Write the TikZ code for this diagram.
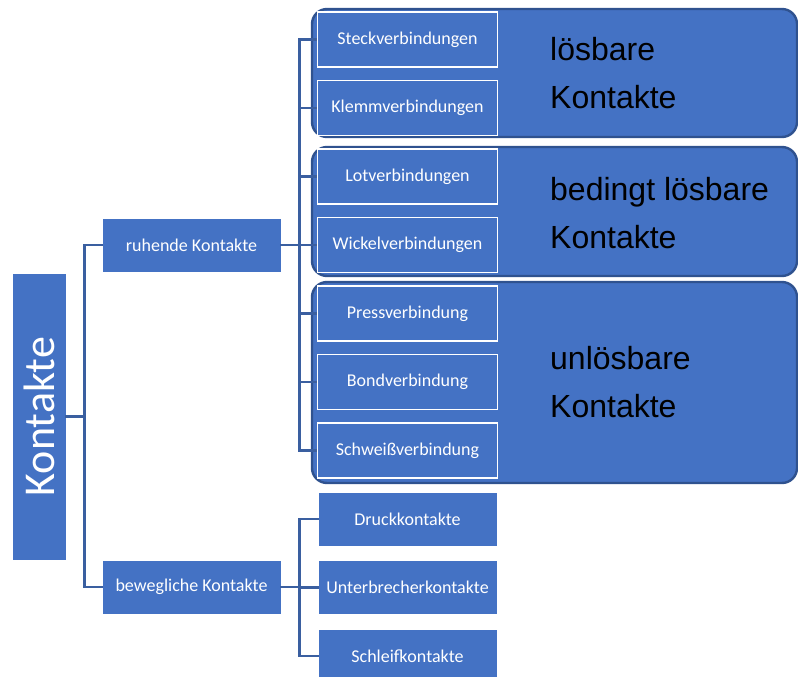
\documentclass[tikz,border=0pt]{standalone}
\usepackage{fontspec}
\setmainfont{Carlito}
\newfontfamily\arialfont{Liberation Sans}
\definecolor{boxfill}{HTML}{4472C4}
\definecolor{boxedge}{HTML}{2F528F}
\definecolor{connln}{HTML}{3A5FA0}

\begin{document}
\begin{tikzpicture}[x=1pt,y=-1pt,
    rootbox/.style={fill=boxfill,draw=boxfill,text=white,font=\fontsize{44}{48}\selectfont,minimum width=285pt,minimum height=52pt,inner sep=0pt},
    catbox/.style={fill=boxfill,draw=boxfill,text=white,font=\fontsize{18}{20}\selectfont,minimum width=177pt,minimum height=52pt,inner sep=0pt},
    leafbox/.style={fill=boxfill,draw=white,line width=1.8pt,text=white,font=\fontsize{18}{20}\selectfont,minimum width=180pt,minimum height=55pt,inner sep=0pt},
    plainleaf/.style={catbox},
    groupbg/.style={fill=boxfill,draw=boxedge,line width=2.4pt,rounded corners=15pt},
    glabel/.style={font=\arialfont\fontsize{32}{48}\selectfont,anchor=base west,align=left,inner sep=0pt},
    conn/.style={draw=connln,line width=2.6pt},
  ]
  \useasboundingbox (0,0) rectangle (798,677);
  \def\lx{407.5}
  \def\gx{550}
  % group backgrounds
  \draw[groupbg] (312,9) rectangle (797,137);
  \draw[groupbg] (312,147) rectangle (797,276);
  \draw[groupbg] (312,282) rectangle (797,483);
  % base of a two-line node is its last line
  \node[glabel] (glos) at (\gx,108) {lösbare\\Kontakte};
  \node[glabel] (gbed) at (\gx,248) {bedingt lösbare\\Kontakte};
  \node[glabel] (gunl) at (\gx,417) {unlösbare\\Kontakte};
  % tree
  \node[rootbox,rotate=90] (root) at (39,416.5) {Kontakte};
  \node[catbox] (ruh) at (191.5,245) {ruhende Kontakte};
  \node[catbox] (bew) at (191.5,587) {bewegliche Kontakte};
  \draw[conn] (root.south) -- ++(19,0) |- (ruh.west);
  \draw[conn] (root.south) -- ++(19,0) |- (bew.west);
  \foreach \nm/\yy/\tx in {steck/39.5/Steckverbindungen, klemm/108/Klemmverbindungen,
      lot/176.5/Lotverbindungen, wickel/245/Wickelverbindungen, press/313.5/Pressverbindung,
      bond/382/Bondverbindung, schweiss/450.5/Schweißverbindung}{
    \draw[conn] (ruh.east) -- ++(19,0) |- (\lx-91,\yy) coordinate (\nm-in);
    \node[leafbox] (\nm) at (\lx,\yy) {\tx};
  }
  \foreach \nm/\yy/\tx in {druck/519/Druckkontakte, unterb/587.5/Unterbrecherkontakte,
      schleif/656/Schleifkontakte}{
    \node[plainleaf] (\nm) at (\lx,\yy) {\tx};
    \draw[conn] (bew.east) -- ++(19,0) |- (\nm.west);
  }
\end{tikzpicture}
\end{document}
